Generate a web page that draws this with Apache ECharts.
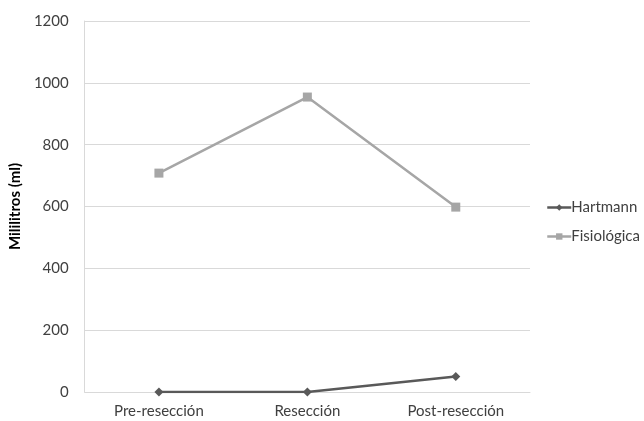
<!DOCTYPE html>
<html>
<head>
<meta charset="utf-8">
<script src="https://cdn.jsdelivr.net/npm/echarts@6/dist/echarts.min.js"></script>
<style>
  html, body { margin: 0; padding: 0; background: #fff; }
  #chart { width: 644px; height: 421px; }
</style>
</head>
<body>
<div id="chart"></div>
<script>
// Phases of the procedure
const categories = ['Pre-resección', 'Resección', 'Post-resección'];
// Volume per phase, in millilitres
const hartmann = [0, 0, 50];
const fisiologica = [708, 954, 598];
// Y axis range
const yMin = 0, yMax = 1200, yStep = 200;

const font = 'Lato, "Open Sans", sans-serif';
const chart = echarts.init(document.getElementById('chart'), null, { renderer: 'canvas' });

chart.setOption({
  backgroundColor: '#ffffff',
  animation: false,
  grid: { left: 83, right: 114, top: 21, bottom: 29, containLabel: false },
  legend: {
    orient: 'vertical',
    left: 541,
    top: 195,
    itemWidth: 24,
    itemHeight: 8,
    itemGap: 14,
    lineStyle: { width: 2.5 },
    textStyle: { fontFamily: font, fontSize: 15, color: '#404040', padding: [0, 0, 0, -5] },
    data: ['Hartmann', 'Fisiológica']
  },
  xAxis: {
    type: 'category',
    data: categories,
    boundaryGap: true,
    axisLine: { show: true, lineStyle: { color: '#d9d9d9', width: 1 } },
    axisTick: { show: false },
    axisLabel: { fontFamily: font, fontSize: 15, color: '#404040', margin: 12 },
    splitLine: { show: false }
  },
  yAxis: {
    type: 'value',
    min: yMin, max: yMax, interval: yStep,
    name: 'Mililitros (ml)',
    nameLocation: 'middle',
    nameGap: 54,
    nameRotate: 90,
    nameTextStyle: { fontFamily: font, fontSize: 15, fontWeight: 'bold', color: '#000' },
    axisLine: { show: true, lineStyle: { color: '#d9d9d9', width: 1 } },
    axisTick: { show: false },
    axisLabel: { fontFamily: font, fontSize: 15, color: '#404040', margin: 16, formatter: v => String(v) },
    splitLine: { show: true, lineStyle: { color: '#d9d9d9', width: 1 } }
  },
  series: [
    {
      name: 'Hartmann',
      type: 'line',
      data: hartmann,
      symbol: 'diamond',
      symbolSize: 9,
      lineStyle: { color: '#595959', width: 2.5 },
      itemStyle: { color: '#595959' }
    },
    {
      name: 'Fisiológica',
      type: 'line',
      data: fisiologica,
      symbol: 'rect',
      symbolSize: 9,
      lineStyle: { color: '#a6a6a6', width: 2.5 },
      itemStyle: { color: '#a6a6a6' }
    }
  ]
});
</script>
</body>
</html>
